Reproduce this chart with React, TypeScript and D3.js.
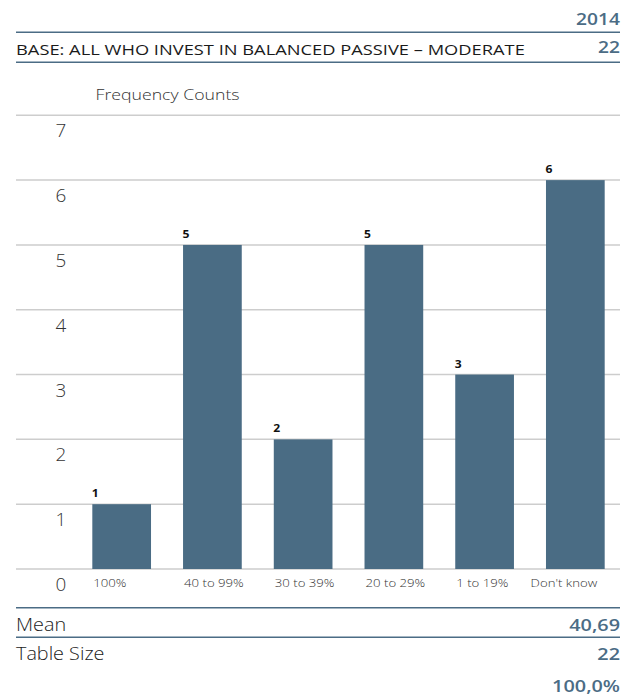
import React from "react";
import * as d3 from "d3";

const categories = ["100%", "40 to 99%", "30 to 39%", "20 to 29%", "1 to 19%", "Don't know"];
const counts = [1, 5, 2, 5, 3, 6];
const yTicks = [0, 1, 2, 3, 4, 5, 6, 7];
const headerYear = "2014";
const baseLabel = "BASE: ALL WHO INVEST IN BALANCED PASSIVE – MODERATE";
const baseCount = "22";
const summaryLabels = ["Mean", "Table Size", ""];
const summaryValues = ["40,69", "22", "100,0%"];

const W = 634;
const H = 696;
const LEFT = 16;
const RIGHT = 620;
const BLUE = "#4b6c85";
const BAR = "#4a6c84";
const GRID = "#cdcdcd";
const FONT = "'Open Sans', 'Lato', sans-serif";

// Text drawn with a horizontal stretch to get the wide, geometric look of the layout
function WText({
  x,
  y,
  k = 1,
  anchor = "start",
  size,
  weight = 400,
  fill = "#222",
  children,
}: {
  x: number;
  y: number;
  k?: number;
  anchor?: "start" | "middle" | "end";
  size: number;
  weight?: number;
  fill?: string;
  children: React.ReactNode;
}) {
  return (
    <text
      transform={`translate(${x},${y}) scale(${k},1)`}
      textAnchor={anchor}
      fontSize={size}
      fontWeight={weight}
      fill={fill}
    >
      {children}
    </text>
  );
}

export default function App() {
  const x = d3
    .scaleBand<string>()
    .domain(categories)
    .range([76.3, 620.7])
    .paddingInner(0.353)
    .paddingOuter(0.1765);
  const y = d3.scaleLinear().domain([0, 7]).range([569, 115.3]);
  const bw = x.bandwidth();

  return (
    <svg
      width={W}
      height={H}
      style={{ position: "absolute", left: 0, top: 0, background: "#fff" }}
      fontFamily={FONT}
    >
      {/* header */}
      <WText x={RIGHT} y={25} k={1.2} anchor="end" size={16} weight={600} fill={BLUE}>
        {headerYear}
      </WText>
      <line x1={LEFT} x2={RIGHT} y1={32.3} y2={32.3} stroke={BLUE} strokeWidth={1.6} />
      <WText x={LEFT} y={55} k={1.22} size={15} weight={400} fill="#1a1a1a">
        {baseLabel}
      </WText>
      <WText x={RIGHT} y={53.3} k={1.2} anchor="end" size={16} weight={600} fill={BLUE}>
        {baseCount}
      </WText>
      <line x1={LEFT} x2={RIGHT} y1={62.3} y2={62.3} stroke={BLUE} strokeWidth={1.6} />
      <WText x={95.5} y={100} k={1.18} size={15} weight={300} fill="#333">
        Frequency Counts
      </WText>

      {/* grid + y tick labels */}
      {yTicks.map((t) => (
        <g key={t}>
          <line x1={LEFT} x2={RIGHT} y1={y(t)} y2={y(t)} stroke={GRID} strokeWidth={1.5} />
          <WText x={61} y={y(t) + 22} k={1.05} anchor="middle" size={18} weight={300} fill="#333">
            {t}
          </WText>
        </g>
      ))}

      {/* bars, value labels and category labels */}
      {categories.map((c, i) => {
        const bx = x(c) ?? 0;
        const wide = c.length > 9;
        return (
          <g key={c}>
            <rect x={bx} y={y(counts[i])} width={bw} height={y(0) - y(counts[i])} fill={BAR} />
            <WText x={bx - 0.5} y={y(counts[i]) - 7} k={1.1} size={11} weight={700} fill="#111">
              {counts[i]}
            </WText>
            <WText
              x={wide ? bx + bw - 7.5 : bx + 1}
              y={587}
              k={1.2}
              anchor={wide ? "end" : "start"}
              size={11}
              weight={300}
              fill="#333"
            >
              {c}
            </WText>
          </g>
        );
      })}

      {/* summary rows */}
      <line x1={LEFT} x2={RIGHT} y1={607.7} y2={607.7} stroke={BLUE} strokeWidth={1.6} />
      <line x1={LEFT} x2={RIGHT} y1={637.3} y2={637.3} stroke={BLUE} strokeWidth={1.6} />
      {summaryValues.map((v, i) => {
        const yy = [631, 660, 692][i];
        return (
          <g key={i}>
            {summaryLabels[i] && (
              <WText x={LEFT} y={yy - 0.5} k={1.1} size={18} weight={300} fill="#222">
                {summaryLabels[i]}
              </WText>
            )}
            <WText x={RIGHT} y={yy} k={1.24} anchor="end" size={16} weight={600} fill={BLUE}>
              {v}
            </WText>
          </g>
        );
      })}
    </svg>
  );
}
